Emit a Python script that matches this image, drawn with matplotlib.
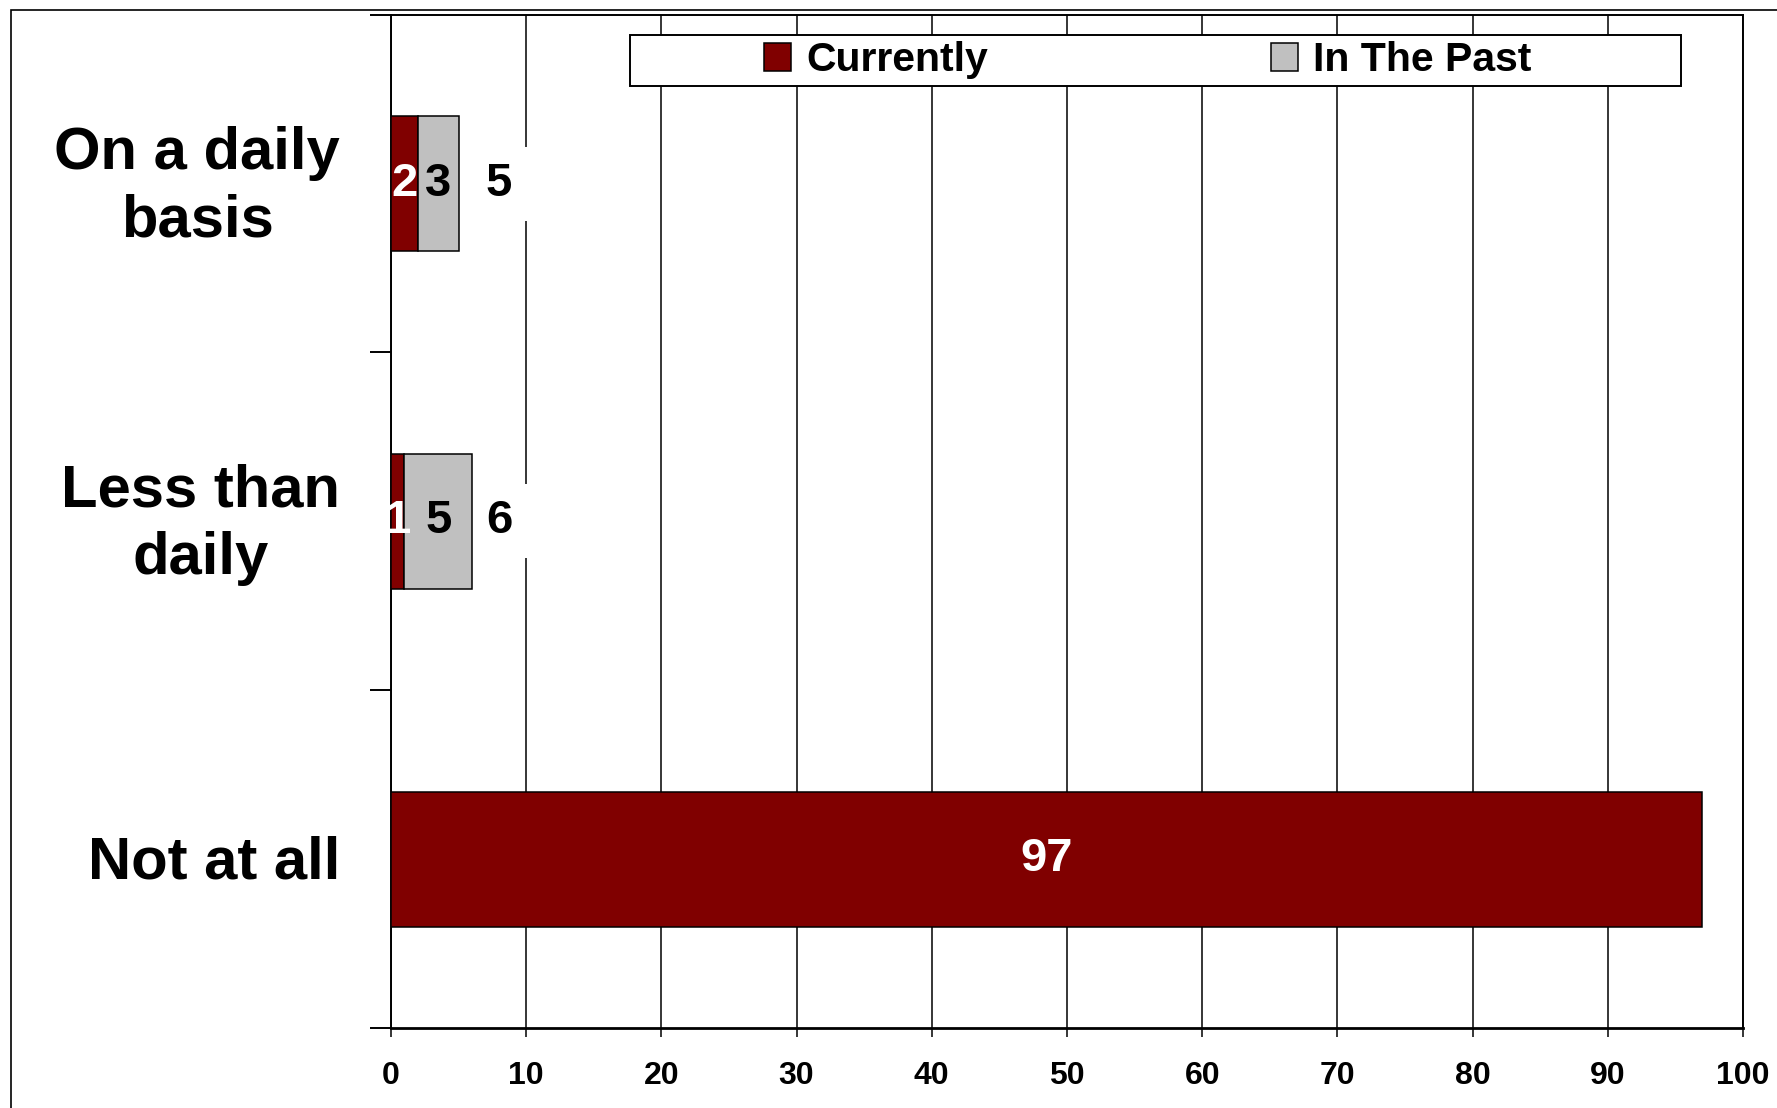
import matplotlib
matplotlib.use("Agg")
import matplotlib.pyplot as plt
from matplotlib.patches import Rectangle

# survey answers, top row first
categories = ["On a daily\nbasis", "Less than\ndaily", "Not at all"]
currently = [2, 1, 97]
in_the_past = [3, 5, 0]
totals = [5, 6, None]
x_ticks = [0, 10, 20, 30, 40, 50, 60, 70, 80, 90, 100]

DARK_RED = "#800000"
GREY = "#C0C0C0"

plt.rcParams["font.family"] = ["Liberation Sans", "DejaVu Sans"]
plt.rcParams["font.weight"] = "bold"

fig = plt.figure(figsize=(17.77, 11.08), dpi=100)
ax = fig.add_axes([0.2200, 0.0722, 0.7609, 0.9145])

ypos = [len(categories) - i - 0.5 for i in range(len(categories))]

ax.barh(ypos, currently, height=0.4, color=DARK_RED, edgecolor="black",
        linewidth=1.1, zorder=3, label="Currently")
past_idx = [i for i, v in enumerate(in_the_past) if v > 0]
ax.barh([ypos[i] for i in past_idx], [in_the_past[i] for i in past_idx],
        left=[currently[i] for i in past_idx], height=0.4, color=GREY,
        edgecolor="black", linewidth=1.1, zorder=3, label="In The Past")

# values inside the segments
for y, cur, past in zip(ypos, currently, in_the_past):
    ax.text(cur / 2, y, str(cur), ha="center", va="center", color="white",
            fontsize=34, zorder=4)
    if past > 0:
        ax.text(cur + past / 2, y, str(past), ha="center", va="center",
                color="black", fontsize=34, zorder=4)

# totals beside the stacked bars, on a white patch over the grid
total_x = max(t for t in totals if t is not None) + 2.0
for y, tot in zip(ypos, totals):
    if tot is None:
        continue
    ax.text(total_x, y, str(tot), ha="center", va="center", color="black",
            fontsize=34, zorder=2.5,
            bbox=dict(facecolor="white", edgecolor="none", pad=11))

ax.set_xlim(0, 100)
ax.set_ylim(0, len(categories))
ax.set_axisbelow(True)
ax.xaxis.grid(True, color="black", linewidth=1.1)

ax.set_xticks(x_ticks)
ax.tick_params(axis="x", direction="out", length=6.5, width=1.1, pad=17,
               labelsize=23)

ax.set_yticks(range(len(categories) + 1))
ax.set_yticklabels([])
ax.tick_params(axis="y", which="major", direction="out", length=15, width=1.4)
ax.set_yticks([y - 0.01 for y in ypos], labels=categories, minor=True)
ax.tick_params(axis="y", which="minor", length=0, pad=36.7, labelsize=43)
for lbl in ax.get_yticklabels(minor=True):
    lbl.set_multialignment("center")
    lbl.set_verticalalignment("center")
    lbl.set_linespacing(1.3)

for side, spine in ax.spines.items():
    spine.set_linewidth(2.0 if side == "bottom" else 1.4)
    spine.set_color("black")

# legend box spans most of the top of the plot
ax.add_patch(Rectangle((0.1768, 0.930), 0.777, 0.050, transform=ax.transAxes,
                       facecolor="white", edgecolor="black", linewidth=1.4,
                       zorder=4, clip_on=False))
ax.legend(loc="center left", bbox_to_anchor=(0.276, 0.955), ncol=2,
          frameon=False, fontsize=29.5, handlelength=0.66, handleheight=0.66,
          handletextpad=0.37, columnspacing=6.9, borderpad=0, borderaxespad=0)

# outer border of the figure
fig.add_artist(Rectangle((11 / 1777, -0.5), 2, 0.991 + 0.5,
                         transform=fig.transFigure, fill=False,
                         edgecolor="black", linewidth=1.2))

fig.savefig("out.png", dpi=100)
